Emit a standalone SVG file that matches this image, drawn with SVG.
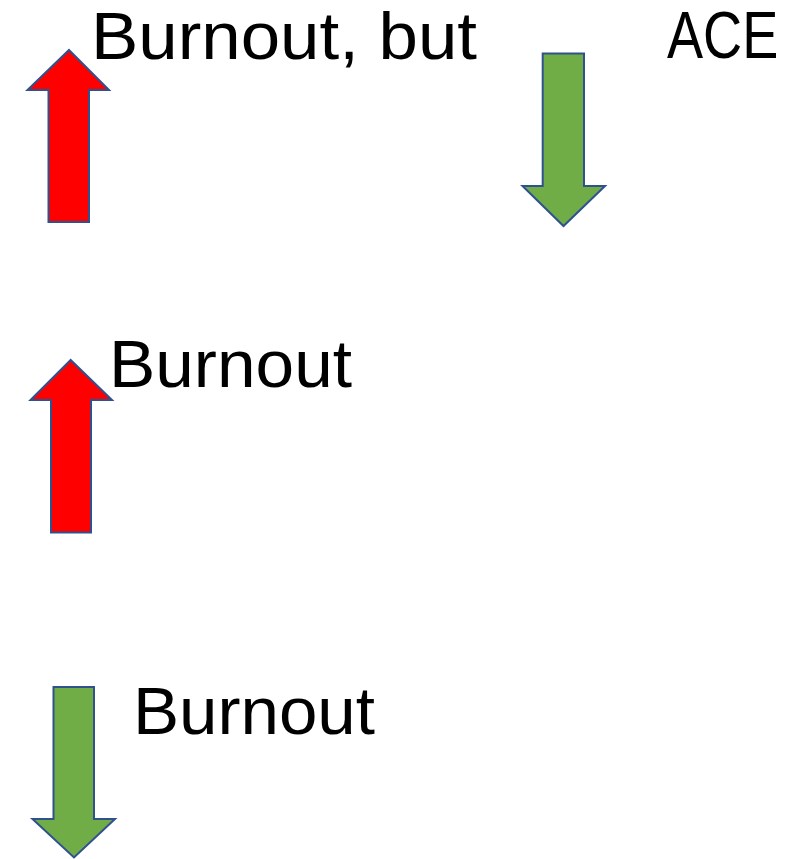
<svg xmlns="http://www.w3.org/2000/svg" width="808" height="859" viewBox="0 0 808 859">
<style>
.t{font-family:"Liberation Sans",Arial,sans-serif;font-size:66px;fill:#000}
.up{fill:#FF0000;stroke:#2F528F;stroke-width:2;stroke-linejoin:miter}
.dn{fill:#70AD47;stroke:#2F528F;stroke-width:2;stroke-linejoin:miter}
</style>
<rect width="808" height="859" fill="#fff"/>
<g id="connectors"></g>
<g id="arrow1"><polygon class="up" points="69,50 109,90 89,90 89,222 48.5,222 48.5,90 27.5,90"/></g>
<g id="arrow2"><polygon class="dn" points="542.7,53.5 584,53.5 584,186 605,186 563.5,226 522.5,186 542.7,186"/></g>
<g id="arrow3"><polygon class="up" points="70.7,360 112,400 91,400 91,532.5 51,532.5 51,400 30.5,400"/></g>
<g id="arrow4"><polygon class="dn" points="53.5,687 94,687 94,819 115,819 74,857.5 32.5,819 53.5,819"/></g>
<g id="label1"><text class="t" x="91" y="59" textLength="386" lengthAdjust="spacingAndGlyphs">Burnout, but</text></g>
<g id="label2"><text class="t" transform="translate(667,58) scale(0.82,1)" x="0" y="0">ACE</text></g>
<g id="label3"><text class="t" x="109" y="387" textLength="243" lengthAdjust="spacingAndGlyphs">Burnout</text></g>
<g id="label4"><text class="t" x="133" y="734" textLength="242" lengthAdjust="spacingAndGlyphs">Burnout</text></g>
</svg>
